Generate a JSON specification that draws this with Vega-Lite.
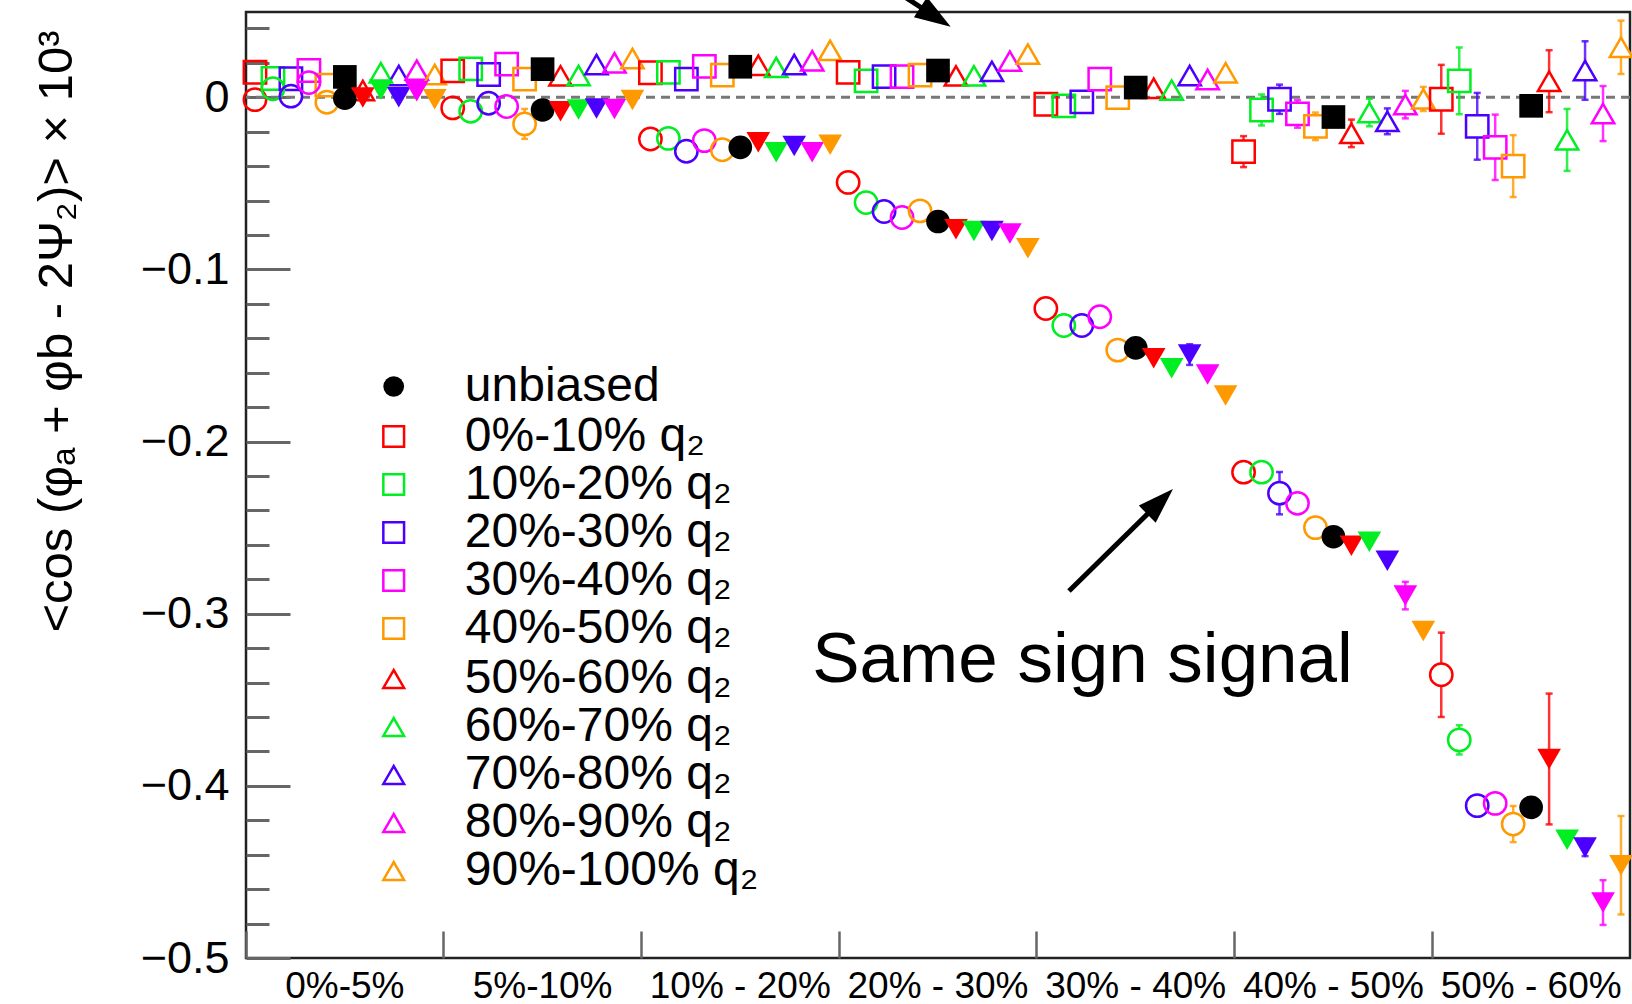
{
  "$schema": "https://vega.github.io/schema/vega-lite/v6.json",
  "width": 1384,
  "height": 946,
  "autosize": {"type": "none"},
  "padding": {"left": 246, "top": 12, "right": 2, "bottom": 46},
  "background": "white",
  "config": {
    "view": {"stroke": "#222222", "strokeWidth": 2.5},
    "font": "Liberation Sans",
    "axis": {"labelFont": "Liberation Sans", "titleFont": "Liberation Sans", "labelColor": "black", "titleColor": "black", "grid": false, "domain": false},
    "legend": {"labelFont": "Liberation Sans"}
  },
  "datasets": {
    "pts": [
      {"bin":"0%-5%","q2":"0%-10% q₂","sign":"opposite","v":0.0145},
      {"bin":"0%-5%","q2":"10%-20% q₂","sign":"opposite","v":0.0109},
      {"bin":"0%-5%","q2":"20%-30% q₂","sign":"opposite","v":0.0107},
      {"bin":"0%-5%","q2":"30%-40% q₂","sign":"opposite","v":0.0155},
      {"bin":"0%-5%","q2":"40%-50% q₂","sign":"opposite","v":0.007},
      {"bin":"0%-5%","q2":"unbiased","sign":"opposite","v":0.0118},
      {"bin":"0%-5%","q2":"50%-60% q₂","sign":"opposite","v":0.0039},
      {"bin":"0%-5%","q2":"60%-70% q₂","sign":"opposite","v":0.0142},
      {"bin":"0%-5%","q2":"70%-80% q₂","sign":"opposite","v":0.0126},
      {"bin":"0%-5%","q2":"80%-90% q₂","sign":"opposite","v":0.0157},
      {"bin":"0%-5%","q2":"90%-100% q₂","sign":"opposite","v":0.0132},
      {"bin":"0%-5%","q2":"0%-10% q₂","sign":"same","v":-0.0014},
      {"bin":"0%-5%","q2":"10%-20% q₂","sign":"same","v":0.0049},
      {"bin":"0%-5%","q2":"20%-30% q₂","sign":"same","v":0.0006},
      {"bin":"0%-5%","q2":"30%-40% q₂","sign":"same","v":0.0085},
      {"bin":"0%-5%","q2":"40%-50% q₂","sign":"same","v":-0.0029},
      {"bin":"0%-5%","q2":"unbiased","sign":"same","v":-0.0006},
      {"bin":"0%-5%","q2":"50%-60% q₂","sign":"same","v":-0.0002},
      {"bin":"0%-5%","q2":"60%-70% q₂","sign":"same","v":0.0045},
      {"bin":"0%-5%","q2":"70%-80% q₂","sign":"same","v":0.0},
      {"bin":"0%-5%","q2":"80%-90% q₂","sign":"same","v":0.0035},
      {"bin":"0%-5%","q2":"90%-100% q₂","sign":"same","v":-0.0012},

      {"bin":"5%-10%","q2":"0%-10% q₂","sign":"opposite","v":0.0153},
      {"bin":"5%-10%","q2":"10%-20% q₂","sign":"opposite","v":0.0165},
      {"bin":"5%-10%","q2":"20%-30% q₂","sign":"opposite","v":0.0132},
      {"bin":"5%-10%","q2":"30%-40% q₂","sign":"opposite","v":0.0192},
      {"bin":"5%-10%","q2":"40%-50% q₂","sign":"opposite","v":0.0105},
      {"bin":"5%-10%","q2":"unbiased","sign":"opposite","v":0.0163},
      {"bin":"5%-10%","q2":"50%-60% q₂","sign":"opposite","v":0.0124},
      {"bin":"5%-10%","q2":"60%-70% q₂","sign":"opposite","v":0.0126},
      {"bin":"5%-10%","q2":"70%-80% q₂","sign":"opposite","v":0.019},
      {"bin":"5%-10%","q2":"80%-90% q₂","sign":"opposite","v":0.02},
      {"bin":"5%-10%","q2":"90%-100% q₂","sign":"opposite","v":0.0225},
      {"bin":"5%-10%","q2":"0%-10% q₂","sign":"same","v":-0.0062},
      {"bin":"5%-10%","q2":"10%-20% q₂","sign":"same","v":-0.0082},
      {"bin":"5%-10%","q2":"20%-30% q₂","sign":"same","v":-0.0035},
      {"bin":"5%-10%","q2":"30%-40% q₂","sign":"same","v":-0.0054},
      {"bin":"5%-10%","q2":"40%-50% q₂","sign":"same","v":-0.0155,"err":0.0087},
      {"bin":"5%-10%","q2":"unbiased","sign":"same","v":-0.0074},
      {"bin":"5%-10%","q2":"50%-60% q₂","sign":"same","v":-0.0082},
      {"bin":"5%-10%","q2":"60%-70% q₂","sign":"same","v":-0.0072},
      {"bin":"5%-10%","q2":"70%-80% q₂","sign":"same","v":-0.0066},
      {"bin":"5%-10%","q2":"80%-90% q₂","sign":"same","v":-0.0068},
      {"bin":"5%-10%","q2":"90%-100% q₂","sign":"same","v":-0.0016},

      {"bin":"10% - 20%","q2":"0%-10% q₂","sign":"opposite","v":0.0142},
      {"bin":"10% - 20%","q2":"10%-20% q₂","sign":"opposite","v":0.0144},
      {"bin":"10% - 20%","q2":"20%-30% q₂","sign":"opposite","v":0.0105},
      {"bin":"10% - 20%","q2":"30%-40% q₂","sign":"opposite","v":0.0179},
      {"bin":"10% - 20%","q2":"40%-50% q₂","sign":"opposite","v":0.0128},
      {"bin":"10% - 20%","q2":"unbiased","sign":"opposite","v":0.0177},
      {"bin":"10% - 20%","q2":"50%-60% q₂","sign":"opposite","v":0.0186},
      {"bin":"10% - 20%","q2":"60%-70% q₂","sign":"opposite","v":0.0173},
      {"bin":"10% - 20%","q2":"70%-80% q₂","sign":"opposite","v":0.019},
      {"bin":"10% - 20%","q2":"80%-90% q₂","sign":"opposite","v":0.0212},
      {"bin":"10% - 20%","q2":"90%-100% q₂","sign":"opposite","v":0.0272},
      {"bin":"10% - 20%","q2":"0%-10% q₂","sign":"same","v":-0.0243},
      {"bin":"10% - 20%","q2":"10%-20% q₂","sign":"same","v":-0.0239},
      {"bin":"10% - 20%","q2":"20%-30% q₂","sign":"same","v":-0.0314},
      {"bin":"10% - 20%","q2":"30%-40% q₂","sign":"same","v":-0.0252},
      {"bin":"10% - 20%","q2":"40%-50% q₂","sign":"same","v":-0.0305},
      {"bin":"10% - 20%","q2":"unbiased","sign":"same","v":-0.0291},
      {"bin":"10% - 20%","q2":"50%-60% q₂","sign":"same","v":-0.0262},
      {"bin":"10% - 20%","q2":"60%-70% q₂","sign":"same","v":-0.032},
      {"bin":"10% - 20%","q2":"70%-80% q₂","sign":"same","v":-0.0283},
      {"bin":"10% - 20%","q2":"80%-90% q₂","sign":"same","v":-0.032},
      {"bin":"10% - 20%","q2":"90%-100% q₂","sign":"same","v":-0.0276},

      {"bin":"20% - 30%","q2":"0%-10% q₂","sign":"opposite","v":0.0144},
      {"bin":"20% - 30%","q2":"10%-20% q₂","sign":"opposite","v":0.0095},
      {"bin":"20% - 30%","q2":"20%-30% q₂","sign":"opposite","v":0.012},
      {"bin":"20% - 30%","q2":"30%-40% q₂","sign":"opposite","v":0.012},
      {"bin":"20% - 30%","q2":"40%-50% q₂","sign":"opposite","v":0.0128},
      {"bin":"20% - 30%","q2":"unbiased","sign":"opposite","v":0.0155},
      {"bin":"20% - 30%","q2":"50%-60% q₂","sign":"opposite","v":0.0124},
      {"bin":"20% - 30%","q2":"60%-70% q₂","sign":"opposite","v":0.0124},
      {"bin":"20% - 30%","q2":"70%-80% q₂","sign":"opposite","v":0.015},
      {"bin":"20% - 30%","q2":"80%-90% q₂","sign":"opposite","v":0.021},
      {"bin":"20% - 30%","q2":"90%-100% q₂","sign":"opposite","v":0.025},
      {"bin":"20% - 30%","q2":"0%-10% q₂","sign":"same","v":-0.0495},
      {"bin":"20% - 30%","q2":"10%-20% q₂","sign":"same","v":-0.0612},
      {"bin":"20% - 30%","q2":"20%-30% q₂","sign":"same","v":-0.0664},
      {"bin":"20% - 30%","q2":"30%-40% q₂","sign":"same","v":-0.0699},
      {"bin":"20% - 30%","q2":"40%-50% q₂","sign":"same","v":-0.066},
      {"bin":"20% - 30%","q2":"unbiased","sign":"same","v":-0.0722},
      {"bin":"20% - 30%","q2":"50%-60% q₂","sign":"same","v":-0.0767},
      {"bin":"20% - 30%","q2":"60%-70% q₂","sign":"same","v":-0.0777},
      {"bin":"20% - 30%","q2":"70%-80% q₂","sign":"same","v":-0.0777},
      {"bin":"20% - 30%","q2":"80%-90% q₂","sign":"same","v":-0.0792},
      {"bin":"20% - 30%","q2":"90%-100% q₂","sign":"same","v":-0.0877},

      {"bin":"30% - 40%","q2":"0%-10% q₂","sign":"opposite","v":-0.0041},
      {"bin":"30% - 40%","q2":"10%-20% q₂","sign":"opposite","v":-0.005},
      {"bin":"30% - 40%","q2":"20%-30% q₂","sign":"opposite","v":-0.0027},
      {"bin":"30% - 40%","q2":"30%-40% q₂","sign":"opposite","v":0.0105},
      {"bin":"30% - 40%","q2":"40%-50% q₂","sign":"opposite","v":-0.0002},
      {"bin":"30% - 40%","q2":"unbiased","sign":"opposite","v":0.0056},
      {"bin":"30% - 40%","q2":"50%-60% q₂","sign":"opposite","v":0.0052},
      {"bin":"30% - 40%","q2":"60%-70% q₂","sign":"opposite","v":0.0041},
      {"bin":"30% - 40%","q2":"70%-80% q₂","sign":"opposite","v":0.0126},
      {"bin":"30% - 40%","q2":"80%-90% q₂","sign":"opposite","v":0.0103},
      {"bin":"30% - 40%","q2":"90%-100% q₂","sign":"opposite","v":0.0142},
      {"bin":"30% - 40%","q2":"0%-10% q₂","sign":"same","v":-0.1227},
      {"bin":"30% - 40%","q2":"10%-20% q₂","sign":"same","v":-0.1326},
      {"bin":"30% - 40%","q2":"20%-30% q₂","sign":"same","v":-0.1326},
      {"bin":"30% - 40%","q2":"30%-40% q₂","sign":"same","v":-0.1275},
      {"bin":"30% - 40%","q2":"40%-50% q₂","sign":"same","v":-0.1469},
      {"bin":"30% - 40%","q2":"unbiased","sign":"same","v":-0.1456},
      {"bin":"30% - 40%","q2":"50%-60% q₂","sign":"same","v":-0.1516},
      {"bin":"30% - 40%","q2":"60%-70% q₂","sign":"same","v":-0.1574},
      {"bin":"30% - 40%","q2":"70%-80% q₂","sign":"same","v":-0.1495,"err":0.006},
      {"bin":"30% - 40%","q2":"80%-90% q₂","sign":"same","v":-0.1611},
      {"bin":"30% - 40%","q2":"90%-100% q₂","sign":"same","v":-0.1732},

      {"bin":"40% - 50%","q2":"0%-10% q₂","sign":"opposite","v":-0.0316,"err":0.009},
      {"bin":"40% - 50%","q2":"10%-20% q₂","sign":"opposite","v":-0.0074,"err":0.009},
      {"bin":"40% - 50%","q2":"20%-30% q₂","sign":"opposite","v":-0.0012,"err":0.0085},
      {"bin":"40% - 50%","q2":"30%-40% q₂","sign":"opposite","v":-0.0097,"err":0.008},
      {"bin":"40% - 50%","q2":"40%-50% q₂","sign":"opposite","v":-0.0169,"err":0.008},
      {"bin":"40% - 50%","q2":"unbiased","sign":"opposite","v":-0.0115},
      {"bin":"40% - 50%","q2":"50%-60% q₂","sign":"opposite","v":-0.021,"err":0.008},
      {"bin":"40% - 50%","q2":"60%-70% q₂","sign":"opposite","v":-0.0089,"err":0.008},
      {"bin":"40% - 50%","q2":"70%-80% q₂","sign":"opposite","v":-0.014,"err":0.0075},
      {"bin":"40% - 50%","q2":"80%-90% q₂","sign":"opposite","v":-0.0043,"err":0.008},
      {"bin":"40% - 50%","q2":"90%-100% q₂","sign":"opposite","v":-0.001,"err":0.007},
      {"bin":"40% - 50%","q2":"0%-10% q₂","sign":"same","v":-0.2178},
      {"bin":"40% - 50%","q2":"10%-20% q₂","sign":"same","v":-0.2178},
      {"bin":"40% - 50%","q2":"20%-30% q₂","sign":"same","v":-0.23,"err":0.0123},
      {"bin":"40% - 50%","q2":"30%-40% q₂","sign":"same","v":-0.2359},
      {"bin":"40% - 50%","q2":"40%-50% q₂","sign":"same","v":-0.25},
      {"bin":"40% - 50%","q2":"unbiased","sign":"same","v":-0.2553},
      {"bin":"40% - 50%","q2":"50%-60% q₂","sign":"same","v":-0.2605},
      {"bin":"40% - 50%","q2":"60%-70% q₂","sign":"same","v":-0.2582},
      {"bin":"40% - 50%","q2":"70%-80% q₂","sign":"same","v":-0.2693},
      {"bin":"40% - 50%","q2":"80%-90% q₂","sign":"same","v":-0.2895,"err":0.008},
      {"bin":"40% - 50%","q2":"90%-100% q₂","sign":"same","v":-0.31},

      {"bin":"50% - 60%","q2":"0%-10% q₂","sign":"opposite","v":-0.0012,"err":0.02},
      {"bin":"50% - 60%","q2":"10%-20% q₂","sign":"opposite","v":0.0095,"err":0.0194},
      {"bin":"50% - 60%","q2":"20%-30% q₂","sign":"opposite","v":-0.0169,"err":0.0194},
      {"bin":"50% - 60%","q2":"30%-40% q₂","sign":"opposite","v":-0.0291,"err":0.019},
      {"bin":"50% - 60%","q2":"40%-50% q₂","sign":"opposite","v":-0.04,"err":0.018},
      {"bin":"50% - 60%","q2":"unbiased","sign":"opposite","v":-0.005,"err":0.004},
      {"bin":"50% - 60%","q2":"50%-60% q₂","sign":"opposite","v":0.0093,"err":0.018},
      {"bin":"50% - 60%","q2":"60%-70% q₂","sign":"opposite","v":-0.0248,"err":0.018},
      {"bin":"50% - 60%","q2":"70%-80% q₂","sign":"opposite","v":0.0155,"err":0.017},
      {"bin":"50% - 60%","q2":"80%-90% q₂","sign":"opposite","v":-0.0095,"err":0.016},
      {"bin":"50% - 60%","q2":"90%-100% q₂","sign":"opposite","v":0.029,"err":0.0155},
      {"bin":"50% - 60%","q2":"0%-10% q₂","sign":"same","v":-0.3355,"err":0.0245},
      {"bin":"50% - 60%","q2":"10%-20% q₂","sign":"same","v":-0.3733,"err":0.0085},
      {"bin":"50% - 60%","q2":"20%-30% q₂","sign":"same","v":-0.4115},
      {"bin":"50% - 60%","q2":"30%-40% q₂","sign":"same","v":-0.4102},
      {"bin":"50% - 60%","q2":"40%-50% q₂","sign":"same","v":-0.4222,"err":0.0105},
      {"bin":"50% - 60%","q2":"unbiased","sign":"same","v":-0.4125,"err":0.005},
      {"bin":"50% - 60%","q2":"50%-60% q₂","sign":"same","v":-0.3844,"err":0.038},
      {"bin":"50% - 60%","q2":"60%-70% q₂","sign":"same","v":-0.4313},
      {"bin":"50% - 60%","q2":"70%-80% q₂","sign":"same","v":-0.4358,"err":0.005},
      {"bin":"50% - 60%","q2":"80%-90% q₂","sign":"same","v":-0.4678,"err":0.013},
      {"bin":"50% - 60%","q2":"90%-100% q₂","sign":"same","v":-0.4461,"err":0.0286}
    ],
    "arrows": [
      {"name": "same", "x": 4.1627, "y": -0.2868, "x2": 4.6234, "y2": -0.2349},
      {"name": "opposite", "x": 3.0216, "y": 0.0815, "x2": 3.4878, "y2": 0.0466}
    ],
    "notes": [
      {"label": "Same sign signal", "x": 4.231, "y": -0.3395}
    ]
  },
  "resolve": {"scale": {"x": "independent"}},
  "layer": [
    {
      "data": {"name": "pts"},
      "resolve": {"axis": {"y": "independent", "x": "independent"}, "legend": {"color": "independent"}},
      "layer": [
        {
          "data": {"values": [{}]},
          "mark": {"type": "rule", "strokeDash": [9, 6], "color": "#777777", "strokeWidth": 3},
          "encoding": {
            "y": {"datum": 0, "type": "quantitative",
              "scale": {"domain": [-0.5, 0.0495], "nice": false, "zero": false},
              "axis": {"orient": "left", "values": [-0.48,-0.46,-0.44,-0.42,-0.38,-0.36,-0.34,-0.32,-0.28,-0.26,-0.24,-0.22,-0.18,-0.16,-0.14,-0.12,-0.08,-0.06,-0.04,-0.02,0.02,0.04],
                "tickSize": -23, "tickWidth": 3, "tickColor": "#666666", "labels": false, "domain": false, "title": null, "grid": false}}
          }
        },
        {
          "transform": [{"filter": "datum.err > 0"}],
          "mark": {"type": "errorbar", "thickness": 2.5, "ticks": {"size": 7, "thickness": 2.5}, "opacity": 0.8},
          "encoding": {
            "x": {"field": "bin", "type": "nominal", "scale": {"domain": ["0%-5%","5%-10%","10% - 20%","20% - 30%","30% - 40%","40% - 50%","50% - 60%"], "paddingInner": 0, "paddingOuter": 0}, "axis": null},
            "xOffset": {"field": "q2", "type": "nominal", "scale": {"domain": ["0%-10% q₂","10%-20% q₂","20%-30% q₂","30%-40% q₂","40%-50% q₂","unbiased","50%-60% q₂","60%-70% q₂","70%-80% q₂","80%-90% q₂","90%-100% q₂"], "paddingInner": 0, "paddingOuter": 0}},
            "y": {"field": "v", "type": "quantitative", "scale": {"domain": [-0.5, 0.0495], "nice": false, "zero": false}, "axis": null},
            "yError": {"field": "err"},
            "color": {"field": "q2", "type": "nominal", "scale": {"domain": ["unbiased","0%-10% q₂","10%-20% q₂","20%-30% q₂","30%-40% q₂","40%-50% q₂","50%-60% q₂","60%-70% q₂","70%-80% q₂","80%-90% q₂","90%-100% q₂"], "range": ["#000000","#ff0000","#00ee22","#4b00ff","#ff00ff","#ff9900","#ff0000","#00ee22","#4b00ff","#ff00ff","#ff9900"]}, "legend": null}
          }
        },
        {
          "transform": [{"filter": "datum.err > 0 && !(datum.q2 === 'unbiased' || (datum.sign === 'same' && indexof(['50%-60% q₂','60%-70% q₂','70%-80% q₂','80%-90% q₂','90%-100% q₂'], datum.q2) >= 0))"}],
          "mark": {"type": "point", "filled": true, "size": 500, "color": "white", "opacity": 1},
          "encoding": {
            "x": {"field": "bin", "type": "nominal", "scale": {"domain": ["0%-5%","5%-10%","10% - 20%","20% - 30%","30% - 40%","40% - 50%","50% - 60%"], "paddingInner": 0, "paddingOuter": 0}, "axis": null},
            "xOffset": {"field": "q2", "type": "nominal", "scale": {"domain": ["0%-10% q₂","10%-20% q₂","20%-30% q₂","30%-40% q₂","40%-50% q₂","unbiased","50%-60% q₂","60%-70% q₂","70%-80% q₂","80%-90% q₂","90%-100% q₂"], "paddingInner": 0, "paddingOuter": 0}},
            "y": {"field": "v", "type": "quantitative", "scale": {"domain": [-0.5, 0.0495], "nice": false, "zero": false}, "axis": null},
            "shape": {"condition": [
              {"test": "datum.sign === 'opposite' && indexof(['50%-60% q₂','60%-70% q₂','70%-80% q₂','80%-90% q₂','90%-100% q₂'], datum.q2) < 0", "value": "square"},
              {"test": "datum.sign === 'opposite'", "value": "triangle-up"},
              {"test": "indexof(['50%-60% q₂','60%-70% q₂','70%-80% q₂','80%-90% q₂','90%-100% q₂'], datum.q2) >= 0", "value": "triangle-down"}
            ], "value": "circle"}
          }
        },
        {
          "transform": [{"filter": "!(datum.q2 === 'unbiased' || (datum.sign === 'same' && indexof(['50%-60% q₂','60%-70% q₂','70%-80% q₂','80%-90% q₂','90%-100% q₂'], datum.q2) >= 0))"}],
          "mark": {"type": "point", "filled": false, "size": 500, "strokeWidth": 2.5, "opacity": 1},
          "encoding": {
            "x": {"field": "bin", "type": "nominal", "scale": {"domain": ["0%-5%","5%-10%","10% - 20%","20% - 30%","30% - 40%","40% - 50%","50% - 60%"], "paddingInner": 0, "paddingOuter": 0},
              "axis": {"orient": "bottom", "bandPosition": 0, "tickSize": -27, "tickWidth": 2.5, "tickColor": "#666666", "labelPadding": 37, "labelFontSize": 37, "labelLimit": 0, "labelAngle": 0, "labelOverlap": false, "labelFlush": false, "title": null, "domain": false, "grid": false}},
            "xOffset": {"field": "q2", "type": "nominal", "scale": {"domain": ["0%-10% q₂","10%-20% q₂","20%-30% q₂","30%-40% q₂","40%-50% q₂","unbiased","50%-60% q₂","60%-70% q₂","70%-80% q₂","80%-90% q₂","90%-100% q₂"], "paddingInner": 0, "paddingOuter": 0}},
            "y": {"field": "v", "type": "quantitative", "scale": {"domain": [-0.5, 0.0495], "nice": false, "zero": false},
              "axis": {"orient": "left", "values": [-0.5,-0.4,-0.3,-0.2,-0.1,0], "format": ".1~f", "tickSize": -44, "tickWidth": 3, "tickColor": "#666666", "labelFontSize": 45, "labelPadding": 61, "domain": false, "grid": false,
                "title": "<cos (φₐ + φb - 2Ψ₂)> × 10³", "titleFontSize": 49, "titleFontWeight": "normal", "titleAngle": 270, "titleAlign": "right", "titleAnchor": "end", "titleBaseline": "alphabetic", "titleX": -175, "titleY": 18}},
            "color": {"field": "q2", "type": "nominal", "scale": {"domain": ["unbiased","0%-10% q₂","10%-20% q₂","20%-30% q₂","30%-40% q₂","40%-50% q₂","50%-60% q₂","60%-70% q₂","70%-80% q₂","80%-90% q₂","90%-100% q₂"], "range": ["#000000","#ff0000","#00ee22","#4b00ff","#ff00ff","#ff9900","#ff0000","#00ee22","#4b00ff","#ff00ff","#ff9900"]},
              "legend": {"orient": "none", "legendX": 123.7, "legendY": 400.5, "title": null, "padding": 0, "values": ["0%-10% q₂","10%-20% q₂","20%-30% q₂","30%-40% q₂","40%-50% q₂"], "symbolType": "square", "labelFontSize": 48, "labelColor": "black", "labelLimit": 0, "labelOffset": 47.1, "symbolSize": 430, "symbolStrokeWidth": 2.5, "symbolOpacity": 1, "rowPadding": 0}},
            "shape": {"condition": [
              {"test": "datum.sign === 'opposite' && indexof(['50%-60% q₂','60%-70% q₂','70%-80% q₂','80%-90% q₂','90%-100% q₂'], datum.q2) < 0", "value": "square"},
              {"test": "datum.sign === 'opposite'", "value": "triangle-up"},
              {"test": "indexof(['50%-60% q₂','60%-70% q₂','70%-80% q₂','80%-90% q₂','90%-100% q₂'], datum.q2) >= 0", "value": "triangle-down"}
            ], "value": "circle"}
          }
        },
        {
          "transform": [{"filter": "datum.q2 === 'unbiased' || (datum.sign === 'same' && indexof(['50%-60% q₂','60%-70% q₂','70%-80% q₂','80%-90% q₂','90%-100% q₂'], datum.q2) >= 0)"}],
          "mark": {"type": "point", "filled": true, "size": 560, "opacity": 1},
          "encoding": {
            "x": {"field": "bin", "type": "nominal", "scale": {"domain": ["0%-5%","5%-10%","10% - 20%","20% - 30%","30% - 40%","40% - 50%","50% - 60%"], "paddingInner": 0, "paddingOuter": 0}, "axis": null},
            "xOffset": {"field": "q2", "type": "nominal", "scale": {"domain": ["0%-10% q₂","10%-20% q₂","20%-30% q₂","30%-40% q₂","40%-50% q₂","unbiased","50%-60% q₂","60%-70% q₂","70%-80% q₂","80%-90% q₂","90%-100% q₂"], "paddingInner": 0, "paddingOuter": 0}},
            "y": {"field": "v", "type": "quantitative", "scale": {"domain": [-0.5, 0.0495], "nice": false, "zero": false}, "axis": null},
            "color": {"field": "q2", "type": "nominal", "scale": {"domain": ["unbiased","0%-10% q₂","10%-20% q₂","20%-30% q₂","30%-40% q₂","40%-50% q₂","50%-60% q₂","60%-70% q₂","70%-80% q₂","80%-90% q₂","90%-100% q₂"], "range": ["#000000","#ff0000","#00ee22","#4b00ff","#ff00ff","#ff9900","#ff0000","#00ee22","#4b00ff","#ff00ff","#ff9900"]}, "legend": null},
            "shape": {"condition": [
              {"test": "datum.sign === 'opposite' && indexof(['50%-60% q₂','60%-70% q₂','70%-80% q₂','80%-90% q₂','90%-100% q₂'], datum.q2) < 0", "value": "square"},
              {"test": "datum.sign === 'opposite'", "value": "triangle-up"},
              {"test": "indexof(['50%-60% q₂','60%-70% q₂','70%-80% q₂','80%-90% q₂','90%-100% q₂'], datum.q2) >= 0", "value": "triangle-down"}
            ], "value": "circle"}
          }
        },
        {
          "transform": [{"filter": "datum.bin === '0%-5%' && datum.sign === 'opposite' && datum.q2 === 'unbiased'"}],
          "mark": {"type": "point", "filled": true, "size": 430, "opacity": 0},
          "encoding": {
            "x": {"field": "bin", "type": "nominal", "scale": {"domain": ["0%-5%","5%-10%","10% - 20%","20% - 30%","30% - 40%","40% - 50%","50% - 60%"], "paddingInner": 0, "paddingOuter": 0}, "axis": null},
            "y": {"field": "v", "type": "quantitative", "scale": {"domain": [-0.5, 0.0495], "nice": false, "zero": false}, "axis": null},
            "fill": {"field": "q2", "type": "nominal", "scale": {"domain": ["unbiased"], "range": ["#000000"]},
              "legend": {"orient": "none", "legendX": 123.7, "legendY": 350.5, "title": null, "padding": 0, "symbolType": "circle", "labelFontSize": 48, "labelColor": "black", "labelLimit": 0, "labelOffset": 47.1, "symbolSize": 430, "symbolOpacity": 1, "rowPadding": 0}}
          }
        },
        {
          "transform": [{"filter": "datum.bin === '0%-5%' && datum.sign === 'opposite' && indexof(['50%-60% q₂','60%-70% q₂','70%-80% q₂','80%-90% q₂','90%-100% q₂'], datum.q2) >= 0"}],
          "mark": {"type": "point", "filled": false, "size": 430, "strokeWidth": 2.5, "opacity": 0},
          "encoding": {
            "x": {"field": "bin", "type": "nominal", "scale": {"domain": ["0%-5%","5%-10%","10% - 20%","20% - 30%","30% - 40%","40% - 50%","50% - 60%"], "paddingInner": 0, "paddingOuter": 0}, "axis": null},
            "y": {"field": "v", "type": "quantitative", "scale": {"domain": [-0.5, 0.0495], "nice": false, "zero": false}, "axis": null},
            "stroke": {"field": "q2", "type": "nominal", "scale": {"domain": ["50%-60% q₂","60%-70% q₂","70%-80% q₂","80%-90% q₂","90%-100% q₂"], "range": ["#ff0000","#00ee22","#4b00ff","#ff00ff","#ff9900"]},
              "legend": {"orient": "none", "legendX": 123.7, "legendY": 643, "title": null, "padding": 0, "symbolType": "triangle-up", "labelFontSize": 48, "labelColor": "black", "labelLimit": 0, "labelOffset": 47.1, "symbolSize": 430, "symbolStrokeWidth": 2.5, "symbolOpacity": 1, "rowPadding": 0}}
          }
        }
      ]
    },
    {
      "layer": [
        {
          "data": {"name": "arrows"},
          "mark": {"type": "rule", "color": "black", "strokeWidth": 5},
          "encoding": {
            "x": {"field": "x", "type": "quantitative", "scale": {"domain": [0, 7], "nice": false, "zero": false}, "axis": null},
            "x2": {"field": "x2"},
            "y": {"field": "y", "type": "quantitative", "scale": {"domain": [-0.5, 0.0495], "nice": false, "zero": false}, "axis": null},
            "y2": {"field": "y2"}
          }
        },
        {
          "data": {"name": "arrows"},
          "transform": [{"filter": "datum.name === 'same'"}],
          "mark": {"type": "point", "shape": "M0,-1L-0.67,1L0.67,1Z", "filled": true, "color": "black", "size": 1296, "angle": 45.6, "opacity": 1},
          "encoding": {
            "x": {"field": "x2", "type": "quantitative", "scale": {"domain": [0, 7], "nice": false, "zero": false}, "axis": null},
            "y": {"field": "y2", "type": "quantitative", "scale": {"domain": [-0.5, 0.0495], "nice": false, "zero": false}, "axis": null}
          }
        },
        {
          "data": {"name": "arrows"},
          "transform": [{"filter": "datum.name === 'opposite'"}],
          "mark": {"type": "point", "shape": "M0,-1L-0.67,1L0.67,1Z", "filled": true, "color": "black", "size": 1296, "angle": 123, "opacity": 1},
          "encoding": {
            "x": {"field": "x2", "type": "quantitative", "scale": {"domain": [0, 7], "nice": false, "zero": false}, "axis": null},
            "y": {"field": "y2", "type": "quantitative", "scale": {"domain": [-0.5, 0.0495], "nice": false, "zero": false}, "axis": null}
          }
        },
        {
          "data": {"name": "notes"},
          "mark": {"type": "text", "fontSize": 71, "font": "Liberation Sans", "align": "center", "baseline": "alphabetic", "color": "black"},
          "encoding": {
            "x": {"field": "x", "type": "quantitative", "scale": {"domain": [0, 7], "nice": false, "zero": false}, "axis": null},
            "y": {"field": "y", "type": "quantitative", "scale": {"domain": [-0.5, 0.0495], "nice": false, "zero": false}, "axis": null},
            "text": {"field": "label"}
          }
        }
      ]
    }
  ]
}
